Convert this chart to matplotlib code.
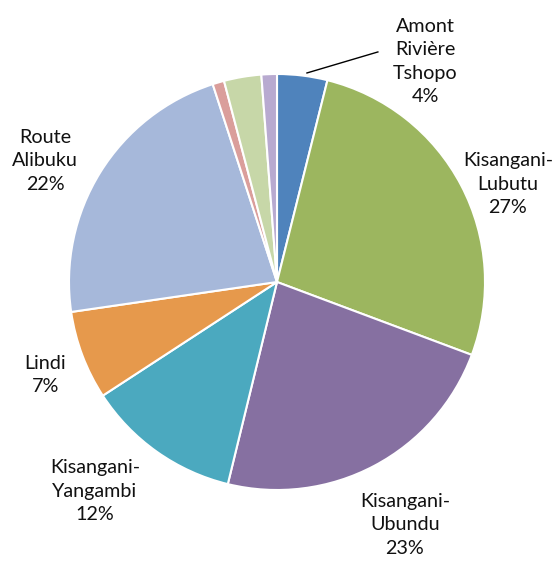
import matplotlib
matplotlib.use("Agg")
import matplotlib.pyplot as plt

labels = ["Amont\nRivière\nTshopo", "Kisangani-\nLubutu", "Kisangani-\nUbundu",
          "Kisangani-\nYangambi", "Lindi", "Route\nAlibuku", "", "", ""]
values = [3.9, 26.8, 23.1, 12.0, 6.9, 22.3, 0.9, 2.9, 1.2]
pct_text = ["4%", "27%", "23%", "12%", "7%", "22%", "", "", ""]
colors = ["#4F83BC", "#9CB65F", "#8670A1", "#4BA9BF", "#E6994C",
          "#A6B8DA", "#DA9E9B", "#C7D7A8", "#B8AAD0"]

W, H = 558, 561
cx, cy, R = 277, 282, 208

fig = plt.figure(figsize=(W / 100, H / 100), dpi=100)
ax = fig.add_axes([0, 0, 1, 1])
ax.pie(values, colors=colors, startangle=90, counterclock=False, radius=1.0,
       wedgeprops=dict(edgecolor="white", linewidth=1.5))
ax.set_xlim(-cx / R, (W - cx) / R)
ax.set_ylim(-(H - cy) / R, cy / R)
ax.set_aspect("auto")
ax.axis("off")

# label block centres (data units, pie radius = 1)
label_pos = [(0.712, 1.06), (1.11, 0.47), (0.615, -1.168),
             (-0.875, -1.005), (-1.115, -0.447), (-1.115, 0.582)]
font = dict(family=["Lato", "DejaVu Sans"], fontsize=14.2, color="#111111")
for lab, pct, (x, y) in zip(labels, pct_text, label_pos):
    ax.text(x, y, lab + "\n" + pct, ha="center", va="center",
            linespacing=1.45, **font)

ax.plot([0.144, 0.485], [1.005, 1.106], color="black", linewidth=1.0)

fig.savefig("out.png", dpi=100)
